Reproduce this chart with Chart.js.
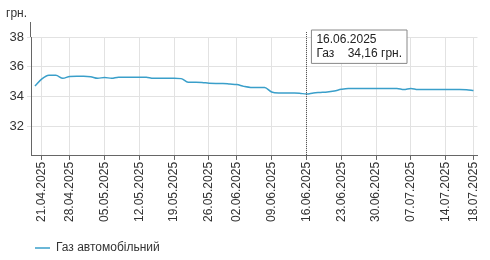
<!DOCTYPE html>
<html>
<head>
<meta charset="utf-8">
<script src="https://cdn.jsdelivr.net/npm/chart.js@4/dist/chart.umd.min.js"></script>
<style>
  html, body { margin: 0; padding: 0; background: #fff; }
  #wrap { width: 490px; height: 260px; position: relative; }
</style>
</head>
<body>
<div id="wrap"><canvas id="c" width="490" height="260"></canvas></div>
<script>
const seriesName = "Газ автомобільний";
const seriesShort = "Газ";
const unitLabel = "грн.";
const dates = [
  "18.04.2025",
  "21.04.2025","22.04.2025","23.04.2025","24.04.2025",
  "28.04.2025","29.04.2025","30.04.2025","01.05.2025","02.05.2025",
  "05.05.2025","06.05.2025","07.05.2025","08.05.2025","09.05.2025",
  "12.05.2025","13.05.2025","14.05.2025","15.05.2025","16.05.2025",
  "19.05.2025","20.05.2025","21.05.2025","22.05.2025","23.05.2025",
  "26.05.2025","27.05.2025","28.05.2025","29.05.2025",
  "02.06.2025","03.06.2025","04.06.2025","05.06.2025","06.06.2025",
  "09.06.2025","10.06.2025","11.06.2025","12.06.2025","13.06.2025",
  "16.06.2025","17.06.2025","18.06.2025","19.06.2025","20.06.2025",
  "23.06.2025","24.06.2025","25.06.2025","26.06.2025","27.06.2025",
  "30.06.2025","01.07.2025","02.07.2025","03.07.2025","04.07.2025",
  "07.07.2025","08.07.2025","09.07.2025","10.07.2025","11.07.2025",
  "14.07.2025","15.07.2025","16.07.2025","17.07.2025","18.07.2025"
];
const prices = [
  34.70,
  35.18,35.42,35.43,35.22,
  35.35,35.36,35.36,35.33,35.22,
  35.28,35.22,35.30,35.30,35.30,
  35.30,35.29,35.22,35.22,35.22,
  35.22,35.20,34.96,34.95,34.94,
  34.89,34.88,34.88,34.84,
  34.80,34.68,34.61,34.61,34.60,
  34.30,34.24,34.24,34.23,34.22,
  34.16,34.24,34.27,34.30,34.37,
  34.48,34.54,34.54,34.54,34.54,
  34.54,34.54,34.54,34.54,34.47,
  34.54,34.47,34.47,34.47,34.47,
  34.47,34.47,34.47,34.46,34.40
];
const xTickLabels = ["21.04.2025","28.04.2025","05.05.2025","12.05.2025","19.05.2025","26.05.2025","02.06.2025","09.06.2025","16.06.2025","23.06.2025","30.06.2025","07.07.2025","14.07.2025","18.07.2025"];
const yTicks = [32, 34, 36, 38];
const activeDate = "16.06.2025";

const lineColor = "#3a9fca";
const axisColor = "#666";
const gridColor = "#e2e2e2";
const textColor = "#333";
const fontFam = "'Liberation Sans', Arial, sans-serif";

const fmt = v => v.toFixed(2).replace('.', ',');

Chart.Tooltip.positioners.fixedRight = function(items) {
  if (!items.length) return false;
  return { x: items[0].element.x + 5, y: 30 };
};

const extras = {
  id: 'extras',
  afterLayout(chart) {
    const lg = chart.legend;
    if (lg) {
      lg.left += 25; lg.right += 25;
      lg.top += 8; lg.bottom += 8;
    }
  },
  afterDatasetsDraw(chart) {
    const ctx = chart.ctx;
    const y = chart.scales.y;
    const ca = chart.chartArea;
    ctx.save();
    ctx.strokeStyle = axisColor;
    ctx.lineWidth = 1;
    ctx.beginPath();
    ctx.moveTo(Math.round(y.right) - 0.5, 22);
    ctx.lineTo(Math.round(y.right) - 0.5, ca.top);
    ctx.stroke();
    ctx.fillStyle = textColor;
    ctx.font = "12px " + fontFam;
    ctx.textBaseline = 'middle';
    ctx.textAlign = 'left';
    ctx.fillText(unitLabel, 6, 14);
    const act = chart.tooltip.getActiveElements();
    if (act.length) {
      const px = Math.round(act[0].element.x) + 0.5;
      ctx.strokeStyle = "#555";
      ctx.setLineDash([1, 1]);
      ctx.beginPath();
      ctx.moveTo(px, 32);
      ctx.lineTo(px, ca.bottom);
      ctx.stroke();
    }
    ctx.restore();
  }
};

const chart = new Chart(document.getElementById('c'), {
  type: 'line',
  data: {
    datasets: [{
      label: seriesName,
      data: prices.map((v, i) => ({ x: i, y: v })),
      borderColor: lineColor,
      backgroundColor: lineColor,
      borderWidth: 1.5,
      pointRadius: 0,
      pointHoverRadius: 0,
      cubicInterpolationMode: 'monotone',
      fill: false
    }]
  },
  options: {
    responsive: false,
    animation: false,
    events: [],
    layout: { padding: { top: 37, right: 12, left: 0, bottom: 4 } },
    scales: {
      x: {
        type: 'linear',
        min: -0.57,
        max: dates.length - 1 + 0.57,
        afterBuildTicks: s => { s.ticks = xTickLabels.map(l => ({ value: dates.indexOf(l) })); },
        ticks: {
          callback: v => dates[v] || '',
          autoSkip: false,
          maxRotation: 90,
          minRotation: 90,
          color: textColor,
          font: { size: 12, family: fontFam },
          padding: 2
        },
        grid: { color: gridColor, tickColor: axisColor, tickLength: 4, drawOnChartArea: true },
        border: { color: axisColor }
      },
      y: {
        min: 30,
        max: 38,
        afterBuildTicks: s => { s.ticks = yTicks.map(v => ({ value: v })); },
        afterFit: s => { s.width = 31; },
        ticks: {
          color: textColor,
          font: { size: 13, family: fontFam },
          padding: 3
        },
        grid: { color: gridColor, tickColor: gridColor, tickLength: 4 },
        border: { color: axisColor }
      }
    },
    plugins: {
      legend: {
        position: 'bottom',
        align: 'start',
        labels: {
          usePointStyle: true,
          pointStyle: 'line',
          pointStyleWidth: 15,
          color: textColor,
          font: { size: 12, family: fontFam },
          padding: 10
        }
      },
      tooltip: {
        enabled: true,
        position: 'fixedRight',
        xAlign: 'left',
        yAlign: 'top',
        caretSize: 0,
        caretPadding: 0,
        cornerRadius: 0,
        backgroundColor: '#fff',
        borderColor: '#888',
        borderWidth: 1,
        titleColor: '#222',
        bodyColor: '#222',
        titleFont: { size: 12, weight: 'normal', lineHeight: 1.1, family: fontFam },
        bodyFont: { size: 12, lineHeight: 1.1, family: fontFam },
        titleMarginBottom: 1,
        padding: { left: 5, right: 5, top: 3, bottom: 3 },
        displayColors: false,
        callbacks: {
          title: items => dates[items[0].dataIndex],
          label: item => seriesShort + "    " + fmt(item.parsed.y) + " " + unitLabel
        }
      }
    }
  },
  plugins: [extras]
});

const idx = dates.indexOf(activeDate);
const el = chart.getDatasetMeta(0).data[idx];
chart.tooltip.setActiveElements([{ datasetIndex: 0, index: idx }], { x: el.x, y: el.y });
chart.update();
</script>
</body>
</html>
